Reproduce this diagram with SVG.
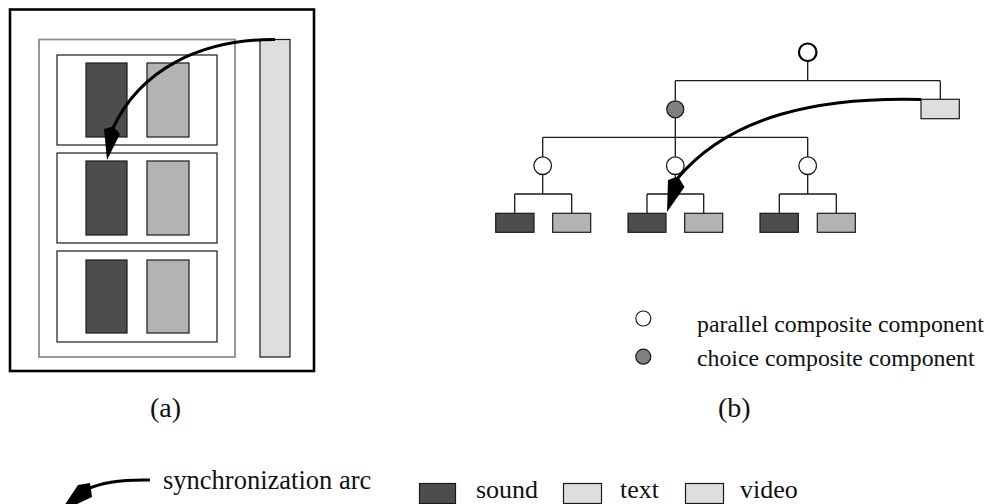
<svg xmlns="http://www.w3.org/2000/svg" width="990" height="504" viewBox="0 0 990 504">
<style>
.snd{fill:#4d4d4d;stroke:#1a1a1a;stroke-width:1.2}
.vid{fill:#b3b3b3;stroke:#1a1a1a;stroke-width:1.2}
.txt{fill:#dedede;stroke:#1a1a1a;stroke-width:1.2}
.box{fill:none;stroke:#1a1a1a;stroke-width:1.2}
.par{fill:#fff;stroke:#1a1a1a;stroke-width:1.3}
.cho{fill:#808080;stroke:#1a1a1a;stroke-width:1.3}
.ln{fill:none;stroke:#1a1a1a;stroke-width:1.3}
.arc{fill:none;stroke:#000;stroke-width:3;stroke-linecap:butt}
.head{fill:#000}
.lbl{font-family:"Liberation Serif","Times New Roman",serif;fill:#111}
</style>
<rect width="990" height="504" fill="#fff"/>
<g id="panel-a">
  <rect x="10" y="9.5" width="304" height="361.5" fill="none" stroke="#000" stroke-width="2.6"/>
  <rect x="39" y="39.5" width="196" height="317.5" fill="none" stroke="#8c8c8c" stroke-width="1.8"/>
  <g id="row1"><rect class="box" x="57" y="55" width="160" height="90"/><rect class="snd" x="86" y="63" width="41" height="74"/><rect class="vid" x="147" y="63" width="42" height="74"/></g>
  <g id="row2"><rect class="box" x="57" y="153" width="160" height="90"/><rect class="snd" x="86" y="161" width="41" height="74"/><rect class="vid" x="147" y="161" width="42" height="74"/></g>
  <g id="row3"><rect class="box" x="57" y="251" width="160" height="91"/><rect class="snd" x="86" y="260" width="41" height="73"/><rect class="vid" x="147" y="260" width="42" height="73"/></g>
  <g id="textbar"><rect class="txt" x="260" y="39.5" width="30" height="317.5"/></g>
  <text class="lbl" x="150" y="417" font-size="28">(a)</text>
</g>
<g id="panel-b">
  <g id="tree-lines">
    <path class="ln" d="M807.7,62 V80.7 M675.3,80.7 H940.3 M675.3,80.7 V100.5 M940.3,80.7 V99.3 M675.3,118 V137.3 M542.7,137.3 H807.7 M542.7,137.3 V157 M675.3,137.3 V157 M807.7,137.3 V157 M542.7,174.5 V194 M675.3,174.5 V194 M807.7,174.5 V194 M514.7,194 H571.7 M647,194 H703.7 M779.3,194 H836.3 M514.7,194 V213.3 M571.7,194 V213.3 M647,194 V213.3 M703.7,194 V213.3 M779.3,194 V213.3 M836.3,194 V213.3"/>
  </g>
  <g id="root"><circle cx="807.7" cy="52.3" r="8.8" fill="#fff" stroke="#000" stroke-width="2.2"/></g>
  <g id="choice"><circle class="cho" cx="675.3" cy="109.3" r="8.5"/></g>
  <g id="par1"><circle class="par" cx="542.7" cy="165.7" r="8.8"/></g>
  <g id="par2"><circle class="par" cx="675.3" cy="165.7" r="8.8"/></g>
  <g id="par3"><circle class="par" cx="807.7" cy="165.7" r="8.8"/></g>
  <g id="text-node"><rect class="txt" x="921" y="99.3" width="38.3" height="19.4"/></g>
  <g id="leaf1"><rect class="snd" x="495.7" y="213.3" width="38.3" height="19"/></g>
  <g id="leaf2"><rect class="vid" x="552.7" y="213.3" width="38" height="19"/></g>
  <g id="leaf3"><rect class="snd" x="628" y="213.3" width="38" height="19"/></g>
  <g id="leaf4"><rect class="vid" x="684.7" y="213.3" width="38" height="19"/></g>
  <g id="leaf5"><rect class="snd" x="760" y="213.3" width="38.3" height="19"/></g>
  <g id="leaf6"><rect class="vid" x="817.3" y="213.3" width="38" height="19"/></g>
  <text class="lbl" x="718" y="417" font-size="28">(b)</text>
  <g id="legend-b">
    <circle cx="643.3" cy="318.5" r="7.5" fill="#fff" stroke="#1a1a1a" stroke-width="1.2"/>
    <circle cx="643.3" cy="356.7" r="7.5" fill="#808080" stroke="#1a1a1a" stroke-width="1.2"/>
    <text class="lbl" x="697" y="331.5" font-size="23.8">parallel composite component</text>
    <text class="lbl" x="697" y="365.5" font-size="23.8">choice composite component</text>
  </g>
</g>
<g id="connectors">
  <path class="arc" d="M275,39.5 C200,39 140,70 113,128"/>
  <polygon class="head" points="104,129 113,126.5 120,134 107,160"/>
  <path class="arc" d="M921,99.5 C820,97 730,115 677,179"/>
  <polygon class="head" points="668,180 678,176.5 684.5,187 667,212"/>
</g>
<g id="legend">
  <path class="arc" d="M150,480 C122,479.5 102,482 88,489"/>
  <polygon class="head" points="78,485 90,483 92,497 60,512"/>
  <text class="lbl" x="163" y="489" font-size="26.5">synchronization arc</text>
  <rect class="snd" x="419.5" y="483.5" width="36" height="20"/>
  <text class="lbl" x="476" y="498" font-size="26">sound</text>
  <rect class="txt" x="563.5" y="483.5" width="38" height="20"/>
  <text class="lbl" x="620" y="498" font-size="26">text</text>
  <rect class="txt" x="685.5" y="483.5" width="38" height="20"/>
  <text class="lbl" x="740" y="498" font-size="26">video</text>
</g>
</svg>
